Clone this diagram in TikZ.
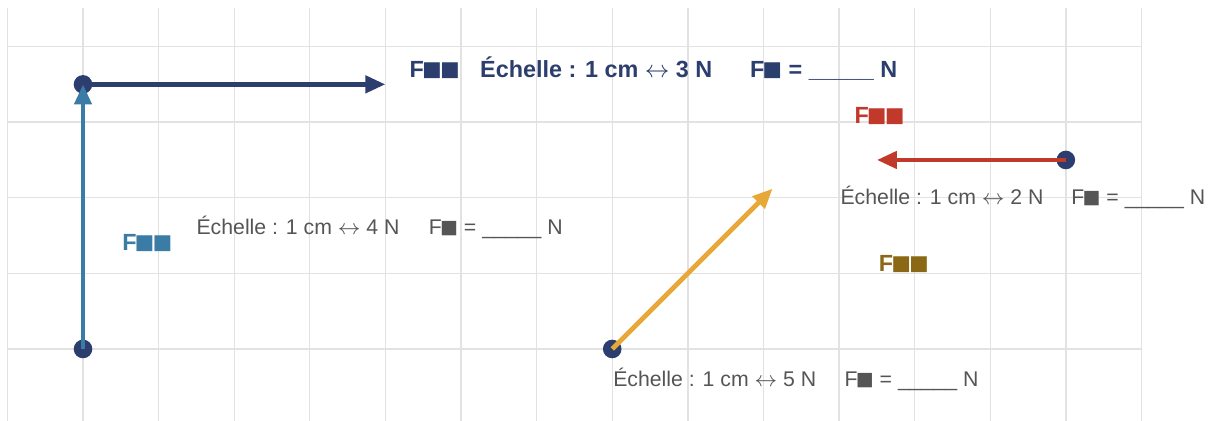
\documentclass[tikz,border=0pt]{standalone}
\usepackage{fontspec}
\setmainfont{Liberation Sans}
\usepackage{xcolor}
\usepackage{tikz}
\usetikzlibrary{arrows.meta, positioning}

\definecolor{navy}{HTML}{2C3E6E}
\definecolor{steel}{HTML}{3A7CA5}
\definecolor{brick}{HTML}{C0392B}
\definecolor{amber}{HTML}{E8A838}
\definecolor{olive}{HTML}{8B6914}
\definecolor{txtgray}{HTML}{555555}
\definecolor{gridgray}{HTML}{E2E2E2}
\newcommand{\sq}{\kern-0.08em\raisebox{-0.13em}{\scalebox{1.4}{■}}}

\begin{document}
\begin{tikzpicture}[
  pt/.style={circle, fill=navy, inner sep=0pt, minimum size=0.246cm},
  vec/.style={-{Triangle[length=7.5pt,width=6.3pt]}, line width=1.8pt},
  lbl/.style={anchor=base west, inner sep=0pt, font=\fontsize{8.8}{10}\selectfont\bfseries},
  scl/.style={anchor=base west, inner sep=0pt, text=txtgray, font=\fontsize{8}{10}\selectfont}
]
\useasboundingbox (-1.098,-0.952) rectangle (14.907,4.616);
%% Grid
\draw[gridgray, line width=0.5pt] (-1,-0.952) grid (14,4.511);
%% Points
\node[pt] (A) at (0,0) {};
\node[pt] (B) at (0,3.5) {};
\node[pt] (C) at (13,2.5) {};
\node[pt] (D) at (7,0) {};
\coordinate (Bend) at (4,3.5);
\coordinate (Cend) at (10.5,2.5);
\coordinate (Dend) at (9.121,2.121);
%% Vectors
\draw[vec, navy] (B.center) -- (Bend);
\draw[vec, steel] (A.center) -- (B.center);
\draw[vec, brick] (C.center) -- (Cend);
\draw[vec, amber] (D.center) -- (Dend);
%% Force names
\node[lbl, text=navy] (fB) at (4.314,3.591) {F\sq\sq};
\node[lbl, text=steel] (fA) at (0.512,1.300) {F\sq\sq};
\node[lbl, text=brick] (fC) at (10.198,2.978) {F\sq\sq};
\node[lbl, text=olive] (fD) at (10.52,1.022) {F\sq\sq};
%% Scales
\node[lbl, text=navy] (sB) at (5.247,3.591) {Échelle : 1 cm $\leftrightarrow$ 3 N};
\node[lbl, text=navy] (vB) at (8.816,3.591) {F\sq{} = \_\_\_\_\_ N};
\node[scl] (sA) at (1.495,1.508) {Échelle : 1 cm $\leftrightarrow$ 4 N};
\node[scl] (vA) at (4.567,1.508) {F\sq{} = \_\_\_\_\_ N};
\node[scl] (sC) at (10.013,1.914) {Échelle : 1 cm $\leftrightarrow$ 2 N};
\node[scl] (vC) at (13.065,1.914) {F\sq{} = \_\_\_\_\_ N};
\node[scl] (sD) at (7.007,-0.499) {Échelle : 1 cm $\leftrightarrow$ 5 N};
\node[scl] (vD) at (10.066,-0.499) {F\sq{} = \_\_\_\_\_ N};
\end{tikzpicture}
\end{document}
